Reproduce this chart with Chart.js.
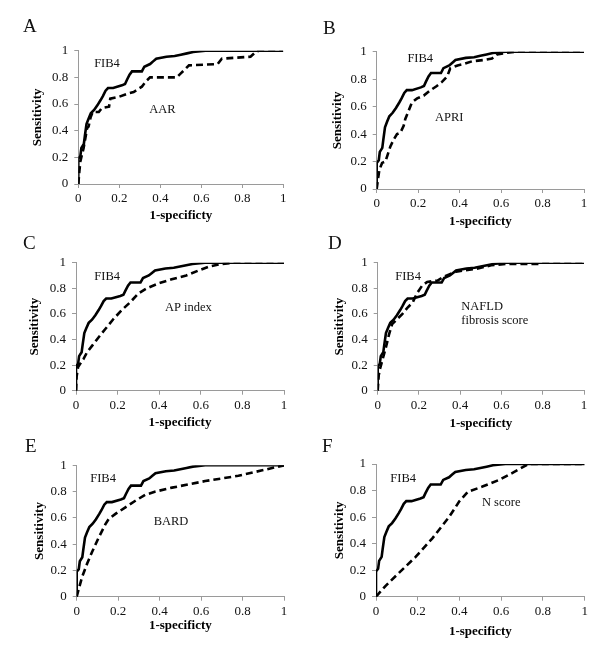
<!DOCTYPE html>
<html lang="en">
<head>
<meta charset="UTF-8">
<title>ROC curves: FIB4 against other scores</title>
<script src="https://cdn.jsdelivr.net/npm/chart.js"></script>
<style>
  body { margin: 0; background: #fff; }
  #wrap { position: relative; width: 600px; height: 647px; }
  #wrap canvas { position: absolute; }
</style>
</head>
<body>
<div id="wrap"></div>
<script>
// axes
const tickVals = [0, 0.2, 0.4, 0.6, 0.8, 1];
const tickLabels = ['0', '0.2', '0.4', '0.6', '0.8', '1'];
const xTitle = '1-specificty';
const yTitle = 'Sensitivity';
const panelLetters = ['A', 'B', 'C', 'D', 'E', 'F'];
const refName = 'FIB4';
const otherNames = ['AAR', 'APRI', 'AP index', ['NAFLD', 'fibrosis score'], 'BARD', 'N score'];

// FIB4 (solid line), the same curve in every panel
const fib4X = [0, 0, 0.01, 0.015, 0.027, 0.032, 0.04, 0.05, 0.061, 0.077, 0.093, 0.109, 0.12, 0.133, 0.145, 0.17, 0.213, 0.228, 0.237, 0.25, 0.262, 0.31, 0.322, 0.35, 0.365, 0.38, 0.43, 0.47, 0.5, 0.53, 0.56, 0.62, 1];
const fib4Y = [0, 0.19, 0.21, 0.27, 0.3, 0.36, 0.45, 0.49, 0.53, 0.555, 0.59, 0.63, 0.66, 0.7, 0.72, 0.72, 0.74, 0.75, 0.78, 0.82, 0.845, 0.845, 0.88, 0.9, 0.92, 0.94, 0.955, 0.96, 0.97, 0.98, 0.99, 1, 1];

// dashed comparison curves
const aarX = [0, 0.005, 0.01, 0.018, 0.026, 0.034, 0.043, 0.05, 0.06, 0.07, 0.1, 0.115, 0.15, 0.156, 0.2, 0.245, 0.27, 0.31, 0.33, 0.35, 0.48, 0.5, 0.54, 0.68, 0.7, 0.84, 0.865, 0.88, 1];
const aarY = [0, 0.09, 0.17, 0.22, 0.27, 0.34, 0.42, 0.43, 0.5, 0.54, 0.54, 0.57, 0.58, 0.64, 0.655, 0.68, 0.69, 0.73, 0.77, 0.8, 0.8, 0.83, 0.89, 0.9, 0.94, 0.955, 0.99, 1, 1];

const apriX = [0, 0.006, 0.013, 0.026, 0.042, 0.055, 0.066, 0.082, 0.098, 0.114, 0.13, 0.138, 0.154, 0.17, 0.195, 0.227, 0.26, 0.29, 0.315, 0.34, 0.355, 0.39, 0.42, 0.46, 0.52, 0.556, 0.58, 0.62, 0.67, 1];
const apriY = [0, 0.07, 0.14, 0.19, 0.2, 0.26, 0.31, 0.36, 0.4, 0.41, 0.46, 0.51, 0.57, 0.63, 0.66, 0.68, 0.72, 0.75, 0.78, 0.82, 0.88, 0.9, 0.91, 0.93, 0.94, 0.95, 0.98, 0.99, 1, 1];

const apX = [0, 0.003, 0.01, 0.02, 0.037, 0.053, 0.077, 0.11, 0.14, 0.18, 0.22, 0.26, 0.3, 0.34, 0.4, 0.46, 0.53, 0.59, 0.64, 0.7, 0.76, 1];
const apY = [0, 0.11, 0.185, 0.21, 0.25, 0.3, 0.35, 0.42, 0.48, 0.56, 0.63, 0.69, 0.76, 0.8, 0.84, 0.87, 0.9, 0.94, 0.97, 0.99, 1, 1];

const nafldX = [0, 0.005, 0.011, 0.023, 0.04, 0.055, 0.07, 0.095, 0.12, 0.145, 0.17, 0.19, 0.215, 0.24, 0.29, 0.32, 0.35, 0.38, 0.42, 0.47, 0.5, 0.55, 0.62, 0.78, 0.8, 1];
const nafldY = [0, 0.12, 0.17, 0.24, 0.34, 0.44, 0.52, 0.56, 0.6, 0.65, 0.69, 0.76, 0.82, 0.85, 0.86, 0.89, 0.91, 0.93, 0.94, 0.95, 0.96, 0.98, 0.99, 0.99, 1, 1];

const bardX = [0, 0.01, 0.026, 0.05, 0.074, 0.106, 0.138, 0.154, 0.187, 0.235, 0.283, 0.33, 0.38, 0.46, 0.62, 0.78, 0.89, 1];
const bardY = [0, 0.06, 0.15, 0.25, 0.34, 0.45, 0.55, 0.59, 0.63, 0.68, 0.73, 0.775, 0.8, 0.83, 0.88, 0.92, 0.96, 1];

const nX = [0, 0.045, 0.11, 0.19, 0.27, 0.35, 0.4, 0.44, 0.51, 0.59, 0.65, 0.73, 1];
const nY = [0, 0.08, 0.18, 0.3, 0.44, 0.6, 0.72, 0.79, 0.83, 0.88, 0.93, 1, 1];

const otherX = [aarX, apriX, apX, nafldX, bardX, nX];
const otherY = [aarY, apriY, apY, nafldY, bardY, nY];

// page layout of each panel (pixels), text spots in data units
const layout = [
  { box: [0, 0, 300, 232],     area: [78.3, 50.7, 283.3, 184],   yTitleX: 38,  xTitleY: 216,   letter: [23, 27.5],  fibAt: [0.14, 0.9],   nameAt: [0.41, 0.56] },
  { box: [300, 0, 300, 232],   area: [376.7, 51.7, 584, 189],    yTitleX: 338, xTitleY: 222,   letter: [323, 29.5], fibAt: [0.21, 0.95],  nameAt: [0.35, 0.52] },
  { box: [0, 232, 300, 204],   area: [76, 262.7, 284, 390.7],    yTitleX: 35,  xTitleY: 423,   letter: [23, 244.3], fibAt: [0.15, 0.89],  nameAt: [0.54, 0.65] },
  { box: [300, 232, 300, 204], area: [377.7, 262.7, 584, 390.7], yTitleX: 340, xTitleY: 424,   letter: [328, 244],  fibAt: [0.147, 0.89], nameAt: [0.405, 0.654], left: true },
  { box: [0, 436, 300, 211],   area: [76.7, 465.3, 284, 596.7],  yTitleX: 40,  xTitleY: 625.5, letter: [25, 446.7], fibAt: [0.127, 0.9],  nameAt: [0.455, 0.57] },
  { box: [300, 436, 300, 211], area: [376, 464, 584.7, 596.7],   yTitleX: 340, xTitleY: 632,   letter: [322, 446.7], fibAt: [0.13, 0.89], nameAt: [0.6, 0.71] }
];

const serif = '"Liberation Serif", "Times New Roman", serif';
const titleLH = 13 * 1.2;

function pts(xs, ys) {
  return xs.map((x, i) => ({ x: x, y: ys[i] }));
}

const textPlugin = {
  id: 'panelText',
  afterDraw(chart, args, opts) {
    const ctx = chart.ctx;
    const xs = chart.scales.x, ys = chart.scales.y;
    const L = opts.layout;
    ctx.save();
    ctx.fillStyle = '#111';
    // panel letter
    ctx.font = '19px ' + serif;
    ctx.textAlign = 'left';
    ctx.textBaseline = 'middle';
    ctx.fillText(opts.letter, L.letter[0] - L.box[0], L.letter[1] - L.box[1]);
    // curve names
    ctx.font = '12.5px ' + serif;
    ctx.textAlign = 'center';
    ctx.fillText(refName, xs.getPixelForValue(L.fibAt[0]), ys.getPixelForValue(L.fibAt[1]));
    const lines = [].concat(opts.name);
    ctx.textAlign = L.left ? 'left' : 'center';
    lines.forEach((t, i) => {
      ctx.fillText(t, xs.getPixelForValue(L.nameAt[0]), ys.getPixelForValue(L.nameAt[1]) + i * 13.5);
    });
    ctx.restore();
  }
};

const wrap = document.getElementById('wrap');

layout.forEach((L, i) => {
  const [bx, by, bw, bh] = L.box;
  const [al, at, ar, ab] = L.area;
  const canvas = document.createElement('canvas');
  canvas.width = bw;
  canvas.height = bh;
  canvas.style.left = bx + 'px';
  canvas.style.top = by + 'px';
  canvas.style.width = bw + 'px';
  canvas.style.height = bh + 'px';
  wrap.appendChild(canvas);

  new Chart(canvas.getContext('2d'), {
    type: 'line',
    data: {
      datasets: [
        {
          label: refName,
          data: pts(fib4X, fib4Y),
          borderColor: '#000',
          borderWidth: 2.6,
          pointRadius: 0,
          tension: 0
        },
        {
          label: [].concat(otherNames[i]).join(' '),
          data: pts(otherX[i], otherY[i]),
          borderColor: '#000',
          borderWidth: 2.6,
          borderDash: [7, 4],
          pointRadius: 0,
          tension: 0
        }
      ]
    },
    options: {
      responsive: false,
      animation: false,
      events: [],
      layout: { padding: { left: 0, top: at - by, right: bx + bw - ar, bottom: 0 } },
      plugins: {
        legend: { display: false },
        tooltip: { enabled: false },
        panelText: { layout: L, letter: panelLetters[i], name: otherNames[i] }
      },
      scales: {
        x: {
          type: 'linear',
          min: 0,
          max: 1,
          afterBuildTicks: s => { s.ticks = tickVals.map(v => ({ value: v })); },
          afterFit: s => { s.height = by + bh - ab; },
          grid: { drawOnChartArea: false, drawTicks: true, tickLength: 4, color: '#9a9a9a' },
          border: { color: '#9a9a9a', width: 1 },
          ticks: {
            autoSkip: false,
            maxRotation: 0,
            padding: 3,
            color: '#111',
            font: { family: serif, size: 13 },
            callback: v => tickLabels[Math.round(v * 5)]
          },
          title: {
            display: true,
            text: xTitle,
            color: '#000',
            font: { family: serif, size: 13, weight: 'bold' },
            padding: { top: 0, bottom: by + bh - L.xTitleY - titleLH / 2 }
          }
        },
        y: {
          type: 'linear',
          min: 0,
          max: 1,
          afterBuildTicks: s => { s.ticks = tickVals.map(v => ({ value: v })); },
          afterFit: s => { s.width = al - bx; },
          grid: { drawOnChartArea: false, drawTicks: true, tickLength: 4, color: '#9a9a9a' },
          border: { color: '#9a9a9a', width: 1 },
          ticks: {
            autoSkip: false,
            padding: 6,
            color: '#111',
            font: { family: serif, size: 13 },
            callback: v => tickLabels[Math.round(v * 5)]
          },
          title: {
            display: true,
            text: yTitle,
            color: '#000',
            font: { family: serif, size: 13, weight: 'bold' },
            padding: { top: L.yTitleX - bx - titleLH / 2, bottom: 0 }
          }
        }
      }
    },
    plugins: [textPlugin]
  });
});
</script>
</body>
</html>
